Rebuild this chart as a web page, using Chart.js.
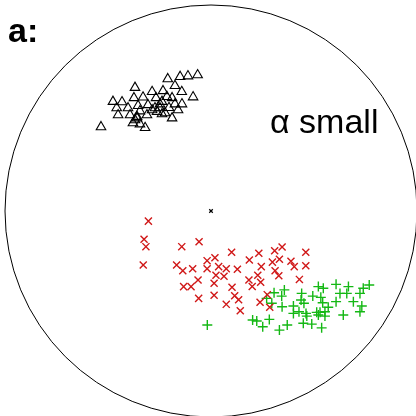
<!DOCTYPE html>
<html>
<head>
<meta charset="utf-8">
<script src="https://cdn.jsdelivr.net/npm/chart.js@4/dist/chart.umd.min.js"></script>
<style>
  html, body { margin: 0; padding: 0; background: #fff; overflow: hidden; }
  #wrap { width: 416px; height: 416px; }
</style>
</head>
<body>
<div id="wrap"><canvas id="c" width="416" height="416"></canvas></div>
<script>
// Points inside the unit disk (x, y), one array per group.
const triangleX = [-0.534,-0.210,-0.150,-0.112,-0.065,-0.175,-0.369,-0.286,-0.233,-0.142,-0.087,-0.330,-0.374,-0.476,-0.432,-0.214,-0.189,-0.175,-0.141,-0.238,-0.267,-0.458,-0.403,-0.354,-0.306,-0.272,-0.248,-0.204,-0.160,-0.451,-0.393,-0.359,-0.311,-0.262,-0.223,-0.189,-0.379,-0.345,-0.320,-0.359,-0.238,-0.345,-0.286,-0.369,-0.248];
const triangleY = [0.408,0.641,0.652,0.655,0.660,0.608,0.599,0.579,0.583,0.579,0.553,0.552,0.549,0.531,0.529,0.555,0.549,0.519,0.519,0.531,0.549,0.500,0.500,0.511,0.515,0.500,0.500,0.501,0.490,0.466,0.466,0.458,0.466,0.482,0.476,0.451,0.427,0.422,0.404,0.451,0.471,0.485,0.490,0.442,0.519];

const crossX = [-0.304,-0.325,-0.316,-0.329,-0.142,-0.058,-0.167,-0.137,-0.089,-0.019,0.019,-0.019,0.037,0.074,0.128,0.100,0.186,0.232,0.309,0.345,0.460,0.244,0.298,0.332,0.388,0.404,0.460,0.311,0.329,0.429,-0.063,-0.133,-0.097,0.015,0.024,0.063,0.184,0.227,0.241,0.200,0.102,-0.060,0.015,0.074,0.115,0.134,0.142,0.238,0.273,0.285];
const crossY = [-0.049,-0.137,-0.173,-0.262,-0.173,-0.149,-0.262,-0.290,-0.280,-0.241,-0.227,-0.280,-0.270,-0.280,-0.283,-0.200,-0.238,-0.205,-0.193,-0.175,-0.200,-0.270,-0.248,-0.234,-0.244,-0.270,-0.266,-0.290,-0.314,-0.332,-0.335,-0.367,-0.367,-0.351,-0.312,-0.317,-0.335,-0.312,-0.346,-0.366,-0.370,-0.424,-0.409,-0.453,-0.411,-0.431,-0.484,-0.443,-0.406,-0.467];

const plusX = [-0.018,0.202,0.222,0.251,0.283,0.332,0.370,0.270,0.306,0.356,0.343,0.345,0.400,0.440,0.437,0.451,0.427,0.461,0.494,0.521,0.545,0.533,0.542,0.569,0.553,0.529,0.607,0.626,0.667,0.659,0.723,0.768,0.691,0.732,0.723,0.642,0.607,0.448,0.489,0.537,0.553,0.465,0.400,0.295,0.521,0.739,0.513];
const plusY = [-0.553,-0.529,-0.534,-0.562,-0.526,-0.578,-0.553,-0.424,-0.397,-0.383,-0.413,-0.465,-0.461,-0.400,-0.432,-0.448,-0.489,-0.497,-0.413,-0.367,-0.375,-0.419,-0.445,-0.467,-0.489,-0.492,-0.356,-0.400,-0.367,-0.400,-0.400,-0.359,-0.440,-0.461,-0.489,-0.505,-0.440,-0.545,-0.549,-0.567,-0.510,-0.510,-0.497,-0.448,-0.505,-0.375,-0.492];

const centerX = [0.0];
const centerY = [0.0];

const diskRadius = 1;
const panelLabel = 'a:';
const caption = 'α small';

const toPoints = (xs, ys) => xs.map((x, i) => ({ x, y: ys[i] }));

// Boundary circle and text labels
const diskPlugin = {
  id: 'disk',
  afterDatasetsDraw(chart) {
    const { ctx, scales } = chart;
    const cx = scales.x.getPixelForValue(0);
    const cy = scales.y.getPixelForValue(0);
    const r = scales.x.getPixelForValue(diskRadius) - cx;
    ctx.save();
    ctx.beginPath();
    ctx.arc(cx, cy, r, 0, Math.PI * 2);
    ctx.strokeStyle = '#000';
    ctx.lineWidth = 1;
    ctx.stroke();

    ctx.fillStyle = '#000';
    ctx.textBaseline = 'alphabetic';
    ctx.textAlign = 'left';
    ctx.font = 'bold 34px "Liberation Sans", Arial, sans-serif';
    ctx.fillText(panelLabel, 8, 42);
    ctx.font = '34px "Liberation Sans", Arial, sans-serif';
    ctx.fillText(caption, 270, 133);
    ctx.restore();
  }
};

new Chart(document.getElementById('c'), {
  type: 'scatter',
  data: {
    datasets: [
      {
        data: toPoints(triangleX, triangleY),
        pointStyle: 'triangle',
        pointRadius: 5.5,
        pointBorderColor: '#000',
        pointBackgroundColor: 'rgba(0,0,0,0)',
        pointBorderWidth: 1.1
      },
      {
        data: toPoints(crossX, crossY),
        pointStyle: 'crossRot',
        pointRadius: 5,
        pointBorderColor: '#d01818',
        pointBorderWidth: 1.4
      },
      {
        data: toPoints(plusX, plusY),
        pointStyle: 'cross',
        pointRadius: 5,
        pointBorderColor: '#14b814',
        pointBorderWidth: 1.4
      },
      {
        data: toPoints(centerX, centerY),
        pointStyle: 'crossRot',
        pointRadius: 2.5,
        pointBorderColor: '#000',
        pointBorderWidth: 1.2
      }
    ]
  },
  options: {
    responsive: false,
    animation: false,
    events: [],
    layout: { autoPadding: false, padding: { left: 5, top: 5, right: 0, bottom: 0 } },
    plugins: { legend: { display: false }, tooltip: { enabled: false } },
    scales: {
      x: { type: 'linear', min: -1, max: 0.995, display: false },
      y: { type: 'linear', min: -0.995, max: 1, display: false }
    }
  },
  plugins: [diskPlugin]
});
</script>
</body>
</html>
